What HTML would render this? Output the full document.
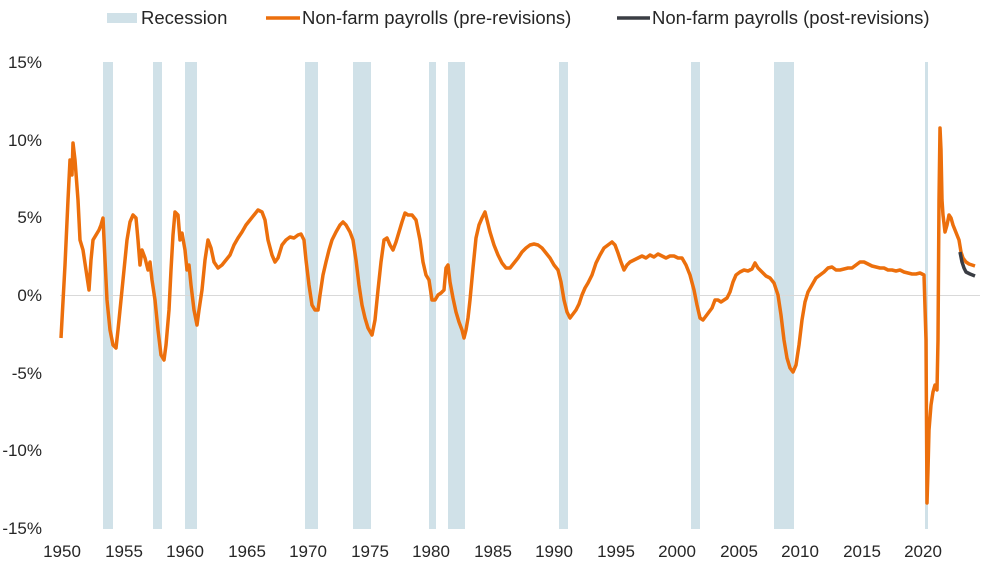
<!DOCTYPE html>
<html><head><meta charset="utf-8"><style>
body{margin:0;background:#fff}
svg{display:block;font-family:"Liberation Sans",Arial,sans-serif}
text{fill:#262626;font-size:17px}
.lg{font-size:18.5px}
</style></head><body>
<svg width="986" height="570" viewBox="0 0 986 570">
<g fill="#d0e1e8">
<rect x="103" y="62" width="10" height="467"/>
<rect x="153" y="62" width="9" height="467"/>
<rect x="185" y="62" width="12" height="467"/>
<rect x="305" y="62" width="13" height="467"/>
<rect x="353" y="62" width="18" height="467"/>
<rect x="429" y="62" width="7" height="467"/>
<rect x="448" y="62" width="17" height="467"/>
<rect x="559" y="62" width="9" height="467"/>
<rect x="691" y="62" width="9" height="467"/>
<rect x="774" y="62" width="20" height="467"/>
<rect x="925" y="62" width="3" height="467"/>
</g>
<line x1="60" y1="295.5" x2="980" y2="295.5" stroke="#d9d9d9" stroke-width="1"/>
<g text-anchor="end">
<text x="42" y="68">15%</text><text x="42" y="146">10%</text><text x="42" y="223">5%</text>
<text x="42" y="301">0%</text><text x="42" y="379">-5%</text><text x="42" y="456">-10%</text><text x="42" y="534">-15%</text>
</g>
<g text-anchor="middle">
<text x="62" y="557">1950</text><text x="124" y="557">1955</text><text x="185" y="557">1960</text><text x="247" y="557">1965</text>
<text x="308" y="557">1970</text><text x="370" y="557">1975</text><text x="431" y="557">1980</text><text x="493" y="557">1985</text>
<text x="554" y="557">1990</text><text x="616" y="557">1995</text><text x="677" y="557">2000</text><text x="739" y="557">2005</text>
<text x="800" y="557">2010</text><text x="862" y="557">2015</text><text x="923" y="557">2020</text>
</g>
<polyline fill="none" stroke="#ec6f0c" stroke-width="3.5" stroke-linejoin="round" points="61,338 65,265 68,200 70,160 72,175 73,143 75,160 78,200 80,240 83,250 86,270 89,290 91,260 93,240 96,235 99,230 101,225 103,218 105,260 107,300 110,330 113,345 116,348 118,330 121,300 124,270 127,240 130,222 133,215 136,218 138,240 140,265 142,250 145,258 148,270 150,262 152,280 155,300 158,330 161,355 164,360 166,345 169,310 171,270 173,235 175,212 178,215 180,240 182,233 185,250 187,270 189,265 191,285 194,310 197,325 199,310 202,290 205,260 208,240 211,248 214,262 218,268 222,265 226,260 230,255 234,245 238,238 242,232 246,225 250,220 254,215 258,210 262,212 265,220 268,240 272,255 275,262 278,258 282,245 286,240 290,237 294,238 298,235 301,234 304,240 306,260 309,285 312,305 315,310 318,310 320,295 323,275 326,262 329,250 332,240 336,232 340,225 343,222 346,225 350,232 353,240 356,260 359,285 362,305 365,318 368,328 372,335 375,320 378,290 381,262 384,240 387,238 390,245 393,250 396,242 399,232 402,222 405,213 408,215 412,215 416,220 420,240 423,262 426,275 429,280 432,300 435,300 438,295 441,293 444,290 446,268 448,265 450,282 453,298 456,312 459,322 462,330 464,338 466,330 468,318 470,300 473,268 476,238 479,225 482,218 485,212 487,220 490,232 494,245 498,255 502,263 506,268 510,268 514,263 518,258 522,252 526,248 530,245 534,244 538,245 542,248 546,253 550,258 554,265 558,270 561,282 564,300 567,312 570,318 573,314 576,310 579,304 582,295 585,288 588,283 592,275 596,263 600,255 604,248 608,245 612,242 615,245 618,253 621,262 624,270 627,265 630,262 634,260 638,258 642,256 646,258 650,255 654,257 658,254 662,256 666,258 670,256 674,256 678,258 682,258 686,265 690,275 694,290 697,305 700,318 703,320 706,316 709,312 712,308 715,300 718,300 721,302 724,300 727,298 730,292 733,282 736,275 740,272 744,270 748,271 752,269 755,263 758,268 762,272 766,276 770,278 774,283 778,295 781,315 784,340 787,358 790,368 793,372 796,365 799,345 802,320 805,302 808,292 812,285 816,278 820,275 824,272 828,268 832,267 836,270 840,270 844,269 848,268 852,268 856,265 860,262 864,262 868,264 872,266 876,267 880,268 884,268 888,270 892,270 896,271 900,270 904,272 908,273 912,274 916,274 920,273 924,275 926,340 927,503 928,470 929,430 931,405 933,392 935,385 937,390 938,340 939,200 940,128 941,150 942,200 943,215 945,232 947,225 949,215 951,218 953,225 955,230 957,235 959,240 961,252 963,258 966,262 969,264 972,265 975,266"/>
<polyline fill="none" stroke="#3a3d44" stroke-width="3.5" stroke-linejoin="round" points="960,252 962,262 964,268 966,272 970,274 975,276"/>
<rect x="107" y="13" width="30" height="10" fill="#d0e1e8"/>
<text class="lg" x="141" y="24">Recession</text>
<line x1="266" y1="18" x2="300" y2="18" stroke="#ec6f0c" stroke-width="3.5"/>
<text class="lg" x="302" y="24">Non-farm payrolls (pre-revisions)</text>
<line x1="617" y1="18" x2="650" y2="18" stroke="#3a3d44" stroke-width="3.5"/>
<text class="lg" x="652" y="24">Non-farm payrolls (post-revisions)</text>
</svg>
</body></html>
